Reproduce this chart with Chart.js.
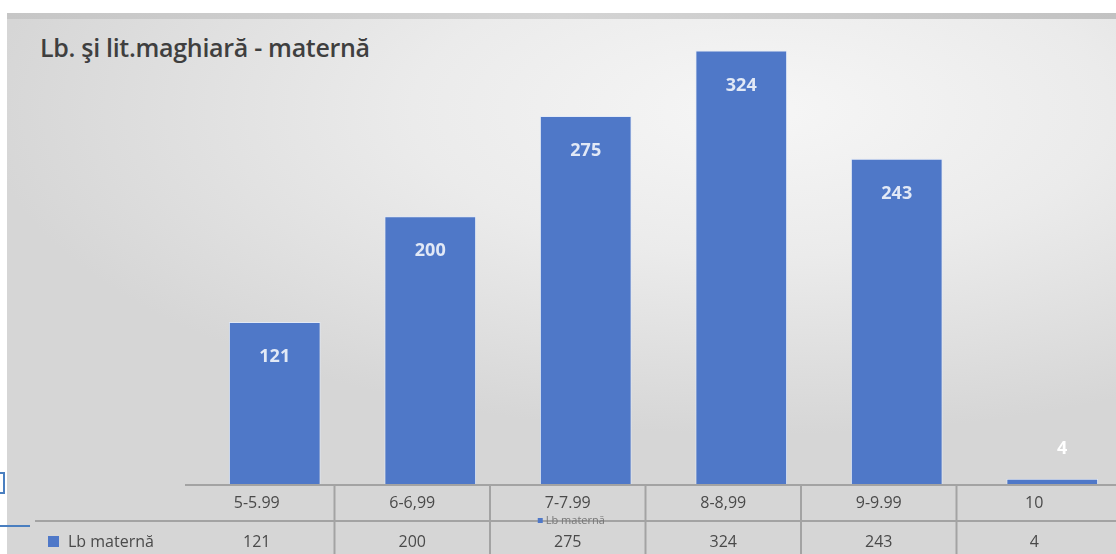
<!DOCTYPE html>
<html>
<head>
<meta charset="utf-8">
<script src="https://cdn.jsdelivr.net/npm/chart.js@4/dist/chart.umd.min.js"></script>
<style>
  body { margin: 0; width: 1116px; height: 554px; overflow: hidden; background: #fff; position: relative; font-family: "Open Sans", sans-serif; }
  #bg { position: absolute; left: 7px; top: 13px; width: 1109px; height: 541px;
        background: radial-gradient(ellipse 70% 60% at 68% 18%, #f6f6f6 0%, #ebebeb 45%, #d6d6d6 100%); }
  #bg:before { content: ""; position: absolute; left: 0; top: 0; width: 100%; height: 6px; background: linear-gradient(90deg, #c6c6c6, #d4d4d4 50%, #c2c2c2); }
  #title { position: absolute; left: 40px; top: 30px; font-size: 25px; font-weight: 600; color: #3f3f3f; letter-spacing: -0.3px; }
  #wrap { position: absolute; left: 0; top: 0; }
  #brk { position: absolute; left: -4px; top: 472px; width: 7px; height: 18px; border: 2px solid #4a7fc0; border-left: none; }
  #ln { position: absolute; left: 0; top: 525px; width: 30px; height: 2px; background: #4a7fc0; }
</style>
</head>
<body>
<div id="bg"></div>
<div id="title">Lb. şi lit.maghiară - maternă</div>
<div id="brk"></div>
<div id="ln"></div>
<div id="wrap"><canvas id="chart" width="1140" height="554"></canvas></div>
<script>
// date grafic
const categories = ["5-5.99", "6-6,99", "7-7.99", "8-8,99", "9-9.99", "10"];
const values = [121, 200, 275, 324, 243, 4];
const seriesName = "Lb maternă";

const barColor = "#4f78c8";
const tableShift = -18; // tabelul e putin deplasat fata de coloane

// eticheta in interiorul barelor + tabelul de date
const tablePlugin = {
  id: "tablePlugin",
  afterDatasetsDraw(chart) {
    const ctx = chart.ctx;
    const xs = chart.scales.x;
    const area = chart.chartArea;
    const meta = chart.getDatasetMeta(0);

    ctx.save();
    // etichete valori
    ctx.textAlign = "center";
    ctx.textBaseline = "middle";
    ctx.font = "bold 18px 'Open Sans', sans-serif";
    meta.data.forEach((bar, i) => {
      const h = bar.base - bar.y;
      if (h > 45) {
        ctx.fillStyle = "#e2e9f6";
        ctx.fillText(String(values[i]), bar.x, bar.y + 35);
      } else {
        ctx.fillStyle = "#ffffff";
        ctx.fillText(String(values[i]), bar.x + 10, bar.y - 30);
      }
    });

    // linii tabel
    const top = area.bottom;
    const mid = top + 37;
    const bottom = chart.height;
    const step = xs.getPixelForValue(1) - xs.getPixelForValue(0);
    const left = xs.getPixelForValue(0) - step / 2 + tableShift;
    ctx.strokeStyle = "#a3a3a3";
    ctx.lineWidth = 2;
    ctx.beginPath();
    ctx.moveTo(left + 6, top + 1);
    ctx.lineTo(chart.width, top + 1);
    ctx.moveTo(35, mid);
    ctx.lineTo(chart.width, mid);
    for (let i = 0; i < categories.length - 1; i++) {
      const x = xs.getPixelForValue(i) + step / 2 + tableShift;
      ctx.moveTo(x, top + 2);
      ctx.lineTo(x, bottom);
    }
    ctx.stroke();

    // texte tabel
    ctx.fillStyle = "#4a4a4a";
    ctx.font = "16px 'Open Sans', sans-serif";
    categories.forEach((c, i) => {
      const x = xs.getPixelForValue(i) + tableShift;
      ctx.fillText(c, x, top + 19);
      ctx.fillText(String(values[i]), x, mid + 21);
    });

    // antet rand
    ctx.fillStyle = barColor;
    ctx.fillRect(48, mid + 15, 11, 11);
    ctx.fillStyle = "#4a4a4a";
    ctx.textAlign = "left";
    ctx.fillText(seriesName, 68, mid + 21);

    // legenda suprapusa (din poza)
    const lx = xs.getPixelForValue(2) + tableShift;
    ctx.fillStyle = barColor;
    ctx.fillRect(lx - 30, mid - 3, 5, 5);
    ctx.fillStyle = "#777777";
    ctx.font = "11px 'Open Sans', sans-serif";
    ctx.fillText(seriesName, lx - 22, mid);
    ctx.restore();
  },
};

new Chart(document.getElementById("chart"), {
  type: "bar",
  data: {
    labels: categories,
    datasets: [
      {
        label: seriesName,
        data: values,
        backgroundColor: barColor,
        borderColor: "rgba(225,233,247,0.9)",
        borderWidth: 1,
        categoryPercentage: 1,
        barPercentage: 0.59,
      },
    ],
  },
  options: {
    responsive: false,
    animation: false,
    layout: { padding: { left: 197, right: 10, top: 29, bottom: 0 } },
    plugins: { legend: { display: false }, tooltip: { enabled: false } },
    scales: {
      x: {
        grid: { display: false },
        border: { display: false },
        ticks: { display: false },
        afterFit: (s) => { s.height = 70; },
      },
      y: { display: false, min: 0, max: 340 },
    },
  },
  plugins: [tablePlugin],
});
</script>
</body>
</html>
